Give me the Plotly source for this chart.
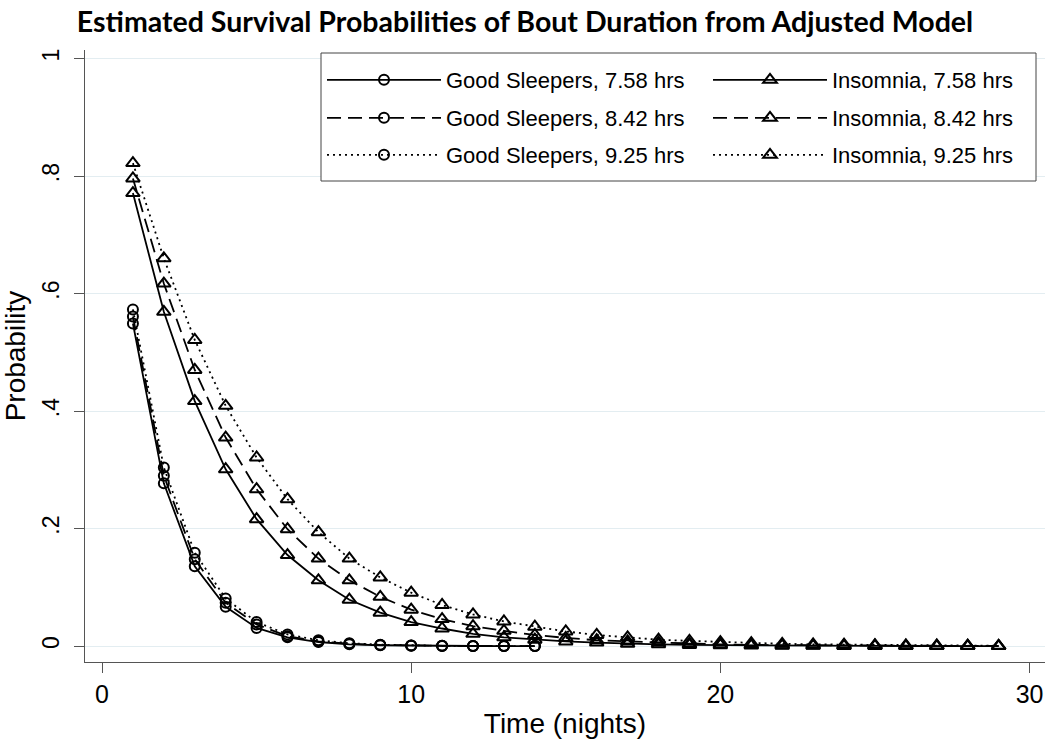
import plotly.graph_objects as go

# ---------------- data ----------------
nights_gs = list(range(1, 15))
nights_in = list(range(1, 30))

gs_758 = [0.549, 0.277, 0.136, 0.067, 0.031, 0.015, 0.007, 0.003, 0.0015, 0.0008, 0.0004, 0.0002, 0.0001, 0.0001]
gs_842 = [0.561, 0.290, 0.148, 0.074, 0.037, 0.017, 0.008, 0.004, 0.002, 0.001, 0.0005, 0.0003, 0.0001, 0.0001]
gs_925 = [0.573, 0.304, 0.159, 0.081, 0.041, 0.020, 0.010, 0.005, 0.0025, 0.0012, 0.0006, 0.0003, 0.0002, 0.0001]

in_758 = [0.771, 0.569, 0.417, 0.301, 0.216, 0.155, 0.112, 0.079, 0.057, 0.041, 0.030, 0.021, 0.015, 0.011,
          0.008, 0.006, 0.004, 0.003, 0.002, 0.0015, 0.001, 0.0008, 0.0006, 0.0004, 0.0003, 0.0002, 0.0002, 0.0001, 0.0001]
in_842 = [0.796, 0.617, 0.470, 0.355, 0.267, 0.199, 0.149, 0.112, 0.084, 0.062, 0.046, 0.034, 0.026, 0.019,
          0.014, 0.010, 0.008, 0.006, 0.004, 0.003, 0.002, 0.0017, 0.0012, 0.0009, 0.0007, 0.0005, 0.0004, 0.0003, 0.0002]
in_925 = [0.822, 0.660, 0.521, 0.409, 0.321, 0.250, 0.194, 0.149, 0.117, 0.091, 0.070, 0.054, 0.042, 0.033,
          0.025, 0.019, 0.015, 0.011, 0.009, 0.007, 0.005, 0.004, 0.003, 0.0024, 0.0018, 0.0014, 0.0011, 0.0008, 0.0006]

x_ticks = [0, 10, 20, 30]
y_ticks = [0, 0.2, 0.4, 0.6, 0.8, 1]
y_tick_labels = ["0", ".2", ".4", ".6", ".8", "1"]

series = [
    ("Good Sleepers, 7.58 hrs", nights_gs, gs_758, "solid", "circle-open", "legend", 257),
    ("Insomnia, 7.58 hrs", nights_in, in_758, "solid", "triangle-up-open", "legend", 190),
    ("Good Sleepers, 8.42 hrs", nights_gs, gs_842, "14px,7px", "circle-open", "legend2", 257),
    ("Insomnia, 8.42 hrs", nights_in, in_842, "14px,7px", "triangle-up-open", "legend2", 190),
    ("Good Sleepers, 9.25 hrs", nights_gs, gs_925, "2px,4px", "circle-open", "legend3", 257),
    ("Insomnia, 9.25 hrs", nights_in, in_925, "2px,4px", "triangle-up-open", "legend3", 190),
]

fig = go.Figure()
for name, xs, ys, dash, sym, leg, lw in series:
    fig.add_trace(go.Scatter(
        x=xs, y=ys, name=name, mode="lines+markers", legend=leg, legendwidth=lw,
        line=dict(color="black", width=1.8, dash=dash),
        marker=dict(symbol=sym, size=10 if "circle" in sym else 12, color="black",
                    line=dict(color="black", width=2)),
    ))

L, R, T, B = 85, 5, 50, 83
W, H = 1050, 745
pw = W - L - R
ph = H - T - B

def px_x(p):
    return (p - L) / pw

def px_y(p):
    return (H - B - p) / ph

leg_font = dict(family="Liberation Sans, Arial, sans-serif", size=22, color="black")
legend_common = dict(
    orientation="h", xanchor="left", yanchor="middle",
    x=px_x(322), bgcolor="rgba(0,0,0,0)", borderwidth=0,
    font=leg_font, entrywidthmode="pixels", itemwidth=114,
)

fig.update_layout(
    width=W, height=H,
    margin=dict(l=L, r=R, t=T, b=B),
    paper_bgcolor="white", plot_bgcolor="white",
    title=dict(
        text="<b>Estimated Survival Probabilities of Bout Duration from Adjusted Model</b>",
        x=0.5, xanchor="center", xref="container",
        y=1 - 22 / H, yanchor="middle", yref="container",
        font=dict(family="Lato, Open Sans, sans-serif", size=28.5, color="black"),
    ),
    legend=dict(**legend_common, y=px_y(80)),
    legend2=dict(**legend_common, y=px_y(118)),
    legend3=dict(**legend_common, y=px_y(155)),
    shapes=[dict(
        type="rect", xref="paper", yref="paper",
        x0=px_x(321), x1=px_x(1036), y0=px_y(181), y1=px_y(53),
        line=dict(color="#444444", width=1), fillcolor="white", layer="above",
    )],
)

fig.update_xaxes(
    range=[-0.55, 30.5], tickvals=x_ticks, ticktext=[str(v) for v in x_ticks],
    showgrid=False, zeroline=False, showline=True, linecolor="#555555", linewidth=1,
    ticks="outside", ticklen=10, tickcolor="#555555", tickwidth=1,
    tickfont=dict(family="Liberation Sans, Arial, sans-serif", size=25, color="black"),
    title=dict(text="Time (nights)", standoff=6,
               font=dict(family="Liberation Sans, Arial, sans-serif", size=28, color="black")),
)
fig.update_yaxes(
    range=[-0.027, 1.0145], tickvals=y_ticks, ticktext=y_tick_labels, tickangle=-90,
    showgrid=True, gridcolor="#e3edf1", gridwidth=1, zeroline=False,
    showline=True, linecolor="#555555", linewidth=1,
    ticks="outside", ticklen=10, tickcolor="#555555", tickwidth=1,
    tickfont=dict(family="Liberation Sans, Arial, sans-serif", size=23, color="black"),
    ticklabelstandoff=6,
    title=dict(text="Probability", standoff=8,
               font=dict(family="Liberation Sans, Arial, sans-serif", size=28, color="black")),
)

fig.write_html("out.html", config={"displayModeBar": False},
               post_script="document.body.style.margin='0';")
